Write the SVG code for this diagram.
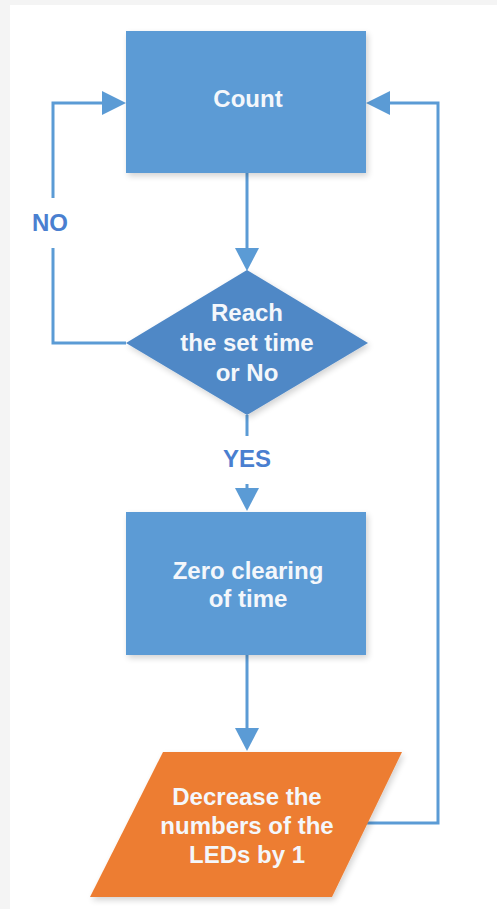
<svg xmlns="http://www.w3.org/2000/svg" width="497" height="909" viewBox="0 0 497 909">
<defs>
<style>
.lbl{font-family:"Liberation Sans",Arial,sans-serif;font-weight:bold;font-size:24px;fill:#f4f7fb;text-anchor:middle}
.edge{font-family:"Liberation Sans",Arial,sans-serif;font-weight:bold;font-size:24px;fill:#4a7fd0;text-anchor:middle}
.ln{fill:none;stroke:#5b9bd5;stroke-width:3}
.hd{fill:#5b9bd5}
</style>
<filter id="sh" x="-10%" y="-10%" width="125%" height="125%">
<feGaussianBlur in="SourceAlpha" stdDeviation="3"/>
<feOffset dx="2" dy="3" result="b"/>
<feComponentTransfer><feFuncA type="linear" slope="0.18"/></feComponentTransfer>
<feMerge><feMergeNode/><feMergeNode in="SourceGraphic"/></feMerge>
</filter>
</defs>
<rect x="0" y="0" width="497" height="909" fill="#f4f4f4"/>
<rect x="10" y="5" width="487" height="904" fill="#ffffff"/>
<g id="connectors">
<path class="ln" d="M247 173 V250"/>
<polygon class="hd" points="235,248 259,248 247,271"/>
<path class="ln" d="M126 343 H53 V248"/>
<path class="ln" d="M53 198 V103 H104"/>
<polygon class="hd" points="102,91 102,115 126,103"/>
<path class="ln" d="M247 415 V436"/>
<path class="ln" d="M247 484 V490"/>
<polygon class="hd" points="235,488 259,488 247,511"/>
<path class="ln" d="M247 655 V730"/>
<polygon class="hd" points="235,728 259,728 247,751"/>
<path class="ln" d="M366 823 H438 V103 H388"/>
<polygon class="hd" points="390,91 390,115 366,103"/>
<text class="edge" x="50" y="231">NO</text>
<text class="edge" x="247" y="467">YES</text>
</g>
<g id="count">
<rect x="126" y="31" width="240" height="142" fill="#5b9bd5" filter="url(#sh)"/>
<text class="lbl" x="248" y="107">Count</text>
</g>
<g id="decision">
<polygon points="247,270 368,343 247,415 126,343" fill="#4f88c6" filter="url(#sh)"/>
<text class="lbl" x="247" y="321">Reach</text>
<text class="lbl" x="247" y="351">the set time</text>
<text class="lbl" x="247" y="381">or No</text>
</g>
<g id="zero">
<rect x="126" y="512" width="240" height="143" fill="#5b9bd5" filter="url(#sh)"/>
<text class="lbl" x="248" y="579">Zero clearing</text>
<text class="lbl" x="248" y="607">of time</text>
</g>
<g id="decrease">
<polygon points="163,752 402,752 332,897 90,897" fill="#ed7d31" filter="url(#sh)"/>
<text class="lbl" x="247" y="805">Decrease the</text>
<text class="lbl" x="247" y="834">numbers of the</text>
<text class="lbl" x="247" y="863">LEDs by 1</text>
</g>
</svg>
